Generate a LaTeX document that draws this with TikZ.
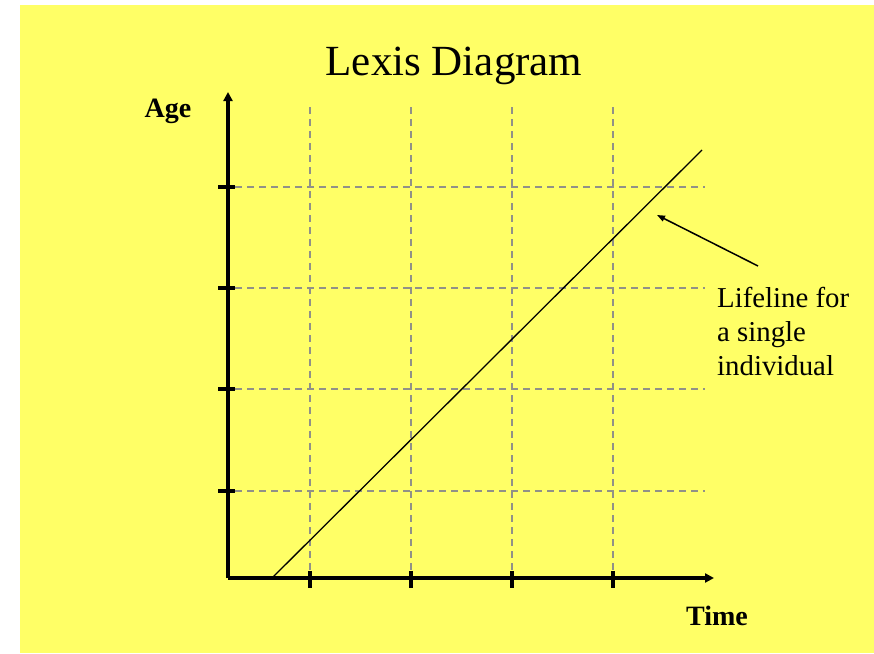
\documentclass[tikz,border=0pt]{standalone}
\usepackage{fontspec}
\setmainfont{Liberation Serif}
\usetikzlibrary{arrows.meta}
\definecolor{slideyellow}{RGB}{255,255,102}
\definecolor{gridgray}{RGB}{145,145,135}
\tikzset{
  axis/.style={line width=3.4pt,-{Triangle[length=9pt,width=9pt]}},
  tickmark/.style={line width=3.4pt},
  gridline/.style={gridgray,line width=2pt,dash pattern=on 7pt off 5pt},
  lifeline/.style={line width=1.3pt},
  annot/.style={line width=1.5pt,-{Triangle[length=8pt,width=6pt]}},
  boldlabel/.style={font=\fontsize{28}{32}\selectfont\bfseries,inner sep=0pt},
  plainlabel/.style={font=\fontsize{28.8}{34}\selectfont,inner sep=0pt,align=left},
}
\begin{document}
\begin{tikzpicture}[x=1pt,y=-1pt]
\useasboundingbox (0,0) rectangle (874,653);
\fill[slideyellow] (20,5) rectangle (874,653);
% title
\node[font=\fontsize{43}{48}\selectfont,inner sep=0pt,anchor=base] (title) at (454,75) {Lexis Diagram};
% axes
\coordinate (O) at (228,578);
\coordinate (ytip) at (228,92);
\coordinate (xtip) at (714,578);
% grid
\foreach \i/\v in {1/310,2/411,3/512,4/613}{
  \coordinate (vt\i) at (\v,107);
  \coordinate (vb\i) at (\v,578);
  \draw[gridline] (vt\i) -- (vb\i);
}
\foreach \i/\h in {1/187,2/288,3/389,4/491}{
  \coordinate (hl\i) at (235,\h);
  \coordinate (hr\i) at (705,\h);
  \draw[gridline] (hl\i) -- (hr\i);
}
\draw[axis] (O) -- (ytip);
\draw[axis] (O) -- (xtip);
% ticks
\foreach \i/\v in {1/310,2/411,3/512,4/613}{
  \coordinate (xt\i a) at (\v,571);
  \coordinate (xt\i b) at (\v,588);
  \draw[tickmark] (xt\i a) -- (xt\i b);
}
\foreach \i/\h in {1/187,2/288,3/389,4/491}{
  \coordinate (yt\i a) at (218,\h);
  \coordinate (yt\i b) at (235,\h);
  \draw[tickmark] (yt\i a) -- (yt\i b);
}
% lifeline
\coordinate (lifestart) at (272,578);
\coordinate (lifeend) at (702,150);
\draw[lifeline] (lifestart) -- (lifeend);
% labels
\node[boldlabel,anchor=base] (age) at (168,117) {Age};
\node[boldlabel,anchor=base] (time) at (717,625) {Time};
\node[plainlabel,anchor=base west] (note) at (717,375) {Lifeline for\\a single\\individual};
% annotation arrow
\coordinate (annottail) at (758,266);
\coordinate (annothead) at (657,215);
\draw[annot] (annottail) -- (annothead);
\end{tikzpicture}
\end{document}
